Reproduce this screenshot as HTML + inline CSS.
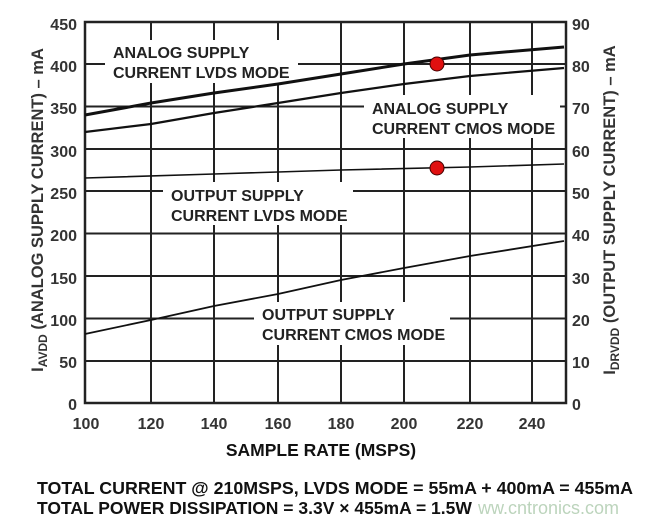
<!DOCTYPE html>
<html><head><meta charset="utf-8"><style>
body{margin:0;background:#fff;}
svg{display:block;font-family:"Liberation Sans",Arial,sans-serif;font-weight:bold;}
</style></head><body>
<svg width="645" height="521" viewBox="0 0 645 521" xmlns="http://www.w3.org/2000/svg">
<g stroke="#222" stroke-width="2" fill="none">
<line x1="85" y1="64" x2="566" y2="64"/>
<line x1="85" y1="106.5" x2="566" y2="106.5"/>
<line x1="85" y1="149" x2="566" y2="149"/>
<line x1="85" y1="191" x2="566" y2="191"/>
<line x1="85" y1="233.5" x2="566" y2="233.5"/>
<line x1="85" y1="276" x2="566" y2="276"/>
<line x1="85" y1="318.5" x2="566" y2="318.5"/>
<line x1="85" y1="361" x2="566" y2="361"/>
<line x1="151" y1="22" x2="151" y2="403"/>
<line x1="214" y1="22" x2="214" y2="403"/>
<line x1="278" y1="22" x2="278" y2="403"/>
<line x1="341" y1="22" x2="341" y2="403"/>
<line x1="404" y1="22" x2="404" y2="403"/>
<line x1="470" y1="22" x2="470" y2="403"/>
<line x1="532" y1="22" x2="532" y2="403"/>
</g>
<g fill="#fff">
<rect x="105" y="40" width="193" height="43"/>
<rect x="364" y="95" width="196" height="43"/>
<rect x="163" y="182" width="190" height="43"/>
<rect x="254" y="302" width="196" height="43"/>
</g>
<rect x="85" y="22" width="481" height="381" fill="none" stroke="#222" stroke-width="2.5"/>
<g fill="none" stroke="#111">
<polyline stroke-width="3" points="85,115 151,103 214,93 278,84 341,74 404,64 470,55 564,47"/>
<polyline stroke-width="2.2" points="85,132 151,124 214,113 278,103 341,93 404,84 470,76 564,68"/>
<polyline stroke-width="1.6" points="85,178 214,174 341,170 470,167 564,164"/>
<polyline stroke-width="1.8" points="85,334 151,320 214,306 278,294 341,280 404,268 470,256 564,241"/>
</g>
<g fill="#e01010" stroke="#400" stroke-width="1">
<circle cx="437" cy="64" r="7"/>
<circle cx="437" cy="168" r="7"/>
</g>
<g fill="#222" font-size="16">
<text x="113" y="58">ANALOG SUPPLY</text>
<text x="113" y="78">CURRENT LVDS MODE</text>
<text x="372" y="114">ANALOG SUPPLY</text>
<text x="372" y="134">CURRENT CMOS MODE</text>
<text x="171" y="201">OUTPUT SUPPLY</text>
<text x="171" y="221">CURRENT LVDS MODE</text>
<text x="262" y="320">OUTPUT SUPPLY</text>
<text x="262" y="340">CURRENT CMOS MODE</text>
</g>
<g fill="#333" font-size="16" text-anchor="end">
<text x="77" y="30">450</text><text x="77" y="72">400</text><text x="77" y="114">350</text>
<text x="77" y="157">300</text><text x="77" y="199">250</text><text x="77" y="241">200</text>
<text x="77" y="284">150</text><text x="77" y="326">100</text><text x="77" y="368">50</text>
<text x="77" y="410">0</text>
</g>
<g fill="#333" font-size="16" text-anchor="start">
<text x="572" y="30">90</text><text x="572" y="72">80</text><text x="572" y="114">70</text>
<text x="572" y="157">60</text><text x="572" y="199">50</text><text x="572" y="241">40</text>
<text x="572" y="284">30</text><text x="572" y="326">20</text><text x="572" y="368">10</text>
<text x="572" y="410">0</text>
</g>
<g fill="#333" font-size="16" text-anchor="middle">
<text x="86" y="429">100</text><text x="151" y="429">120</text><text x="214" y="429">140</text>
<text x="278" y="429">160</text><text x="341" y="429">180</text><text x="404" y="429">200</text>
<text x="470" y="429">220</text><text x="532" y="429">240</text>
</g>
<text x="321" y="456" font-size="17.5" fill="#111" text-anchor="middle">SAMPLE RATE (MSPS)</text>
<text transform="translate(43,210) rotate(-90)" font-size="16.5" fill="#333" text-anchor="middle">I<tspan font-size="12" dy="4">AVDD</tspan><tspan dy="-4"> (ANALOG SUPPLY CURRENT) – mA</tspan></text>
<text transform="translate(615,210) rotate(-90)" font-size="16.5" fill="#333" text-anchor="middle">I<tspan font-size="12" dy="4">DRVDD</tspan><tspan dy="-4"> (OUTPUT SUPPLY CURRENT) – mA</tspan></text>
<text x="37" y="494" textLength="596" lengthAdjust="spacingAndGlyphs" font-size="17.5" fill="#111">TOTAL CURRENT @ 210MSPS, LVDS MODE = 55mA + 400mA = 455mA</text>
<text x="37" y="514" font-size="17.5" fill="#111">TOTAL POWER DISSIPATION = 3.3V × 455mA = 1.5W</text>
<text x="478" y="514" font-size="18" font-weight="normal" fill="#bcd4bc">ww.cntronics.com</text>
</svg>
</body></html>
